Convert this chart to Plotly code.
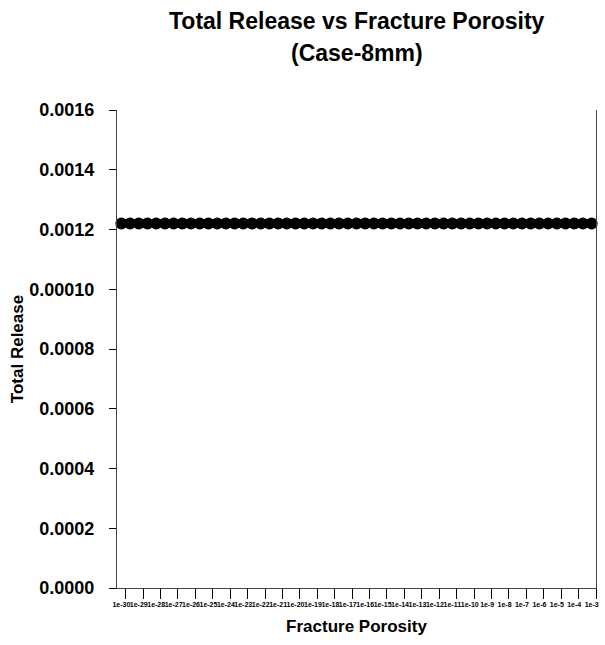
import plotly.graph_objects as go

# Fracture porosity cases: 1e-n and 5e-n steps from 1e-30 up to 1e-3
exponents = list(range(30, 2, -1))
porosity_labels = []
for n in exponents:
    porosity_labels.append(f"1e-{n}")
    if n > 3:
        porosity_labels.append(f"5e-{n}")
total_release = [0.00122] * len(porosity_labels)

# only the decade cases are labelled on the x axis
x_tick_labels = [f"1e-{n}" for n in exponents]

# y-axis tick positions and their printed labels
y_tick_vals = [0.0, 0.0002, 0.0004, 0.0006, 0.0008, 0.0010, 0.0012, 0.0014, 0.0016]
y_tick_text = ["0.0000", "0.0002", "0.0004", "0.0006", "0.0008",
               "0.00010", "0.0012", "0.0014", "0.0016"]

font_family = "Liberation Sans, Arial, sans-serif"
plot_top, plot_h = 110, 478
n_cat = len(porosity_labels)
x_range = [-0.5, n_cat - 0.5]

fig = go.Figure()
fig.add_trace(
    go.Scatter(
        x=porosity_labels,
        y=total_release,
        mode="lines+markers",
        line=dict(color="black", width=4),
        marker=dict(color="black", size=12, symbol="circle"),
        cliponaxis=False,
        showlegend=False,
    )
)
# empty trace so the tick-mark axis is rendered
fig.add_trace(go.Scatter(x=[], y=[], xaxis="x2", yaxis="y", showlegend=False,
                         hoverinfo="skip"))


def title_y(pixel_y):
    return 1 + (plot_top - pixel_y) / plot_h


fig.update_layout(
    width=605,
    height=645,
    paper_bgcolor="white",
    plot_bgcolor="white",
    margin=dict(l=117, r=6, t=plot_top, b=645 - plot_top - plot_h),
    font=dict(family=font_family, color="black"),
    annotations=[
        dict(text="<b>Total Release vs Fracture Porosity</b>", xref="paper", yref="paper",
             x=0.5, y=title_y(21), xanchor="center", yanchor="middle",
             showarrow=False, font=dict(size=23, family=font_family, color="black")),
        dict(text="<b>(Case-8mm)</b>", xref="paper", yref="paper",
             x=0.5, y=title_y(53), xanchor="center", yanchor="middle",
             showarrow=False, font=dict(size=23, family=font_family, color="black")),
    ],
    xaxis=dict(
        type="category",
        categoryorder="array",
        categoryarray=porosity_labels,
        tickvals=x_tick_labels,
        ticktext=[f"<b>{t}</b>" for t in x_tick_labels],
        showgrid=False,
        showline=True, linecolor="#444", linewidth=1,
        ticks="",
        tickangle=0,
        tickfont=dict(size=7, family=font_family),
        ticklabelstandoff=10,
        title=dict(text="<b>Fracture Porosity</b>", font=dict(size=17, family=font_family),
                   standoff=12),
        range=x_range,
    ),
    # tick marks sit on the category boundaries after each labelled decade
    xaxis2=dict(
        overlaying="x",
        anchor="y",
        side="bottom",
        range=x_range,
        tickvals=[i + 0.5 for i, c in enumerate(porosity_labels) if c.startswith("1e")],
        showticklabels=False,
        ticks="outside", ticklen=10, tickcolor="black", tickwidth=1,
        showgrid=False, showline=False, zeroline=False,
    ),
    yaxis=dict(
        range=[0, 0.0016],
        tickvals=y_tick_vals,
        ticktext=[f"<b>{t}</b>" for t in y_tick_text],
        showgrid=False,
        zeroline=False,
        showline=True, linecolor="#444", linewidth=1, mirror=True,
        ticks="outside", ticklen=7, tickcolor="black",
        tickfont=dict(size=18, family=font_family),
        ticklabelstandoff=11,
        title=dict(text="<b>Total Release</b>", font=dict(size=17, family=font_family),
                   standoff=1),
    ),
)

fig.write_html("out.html")
